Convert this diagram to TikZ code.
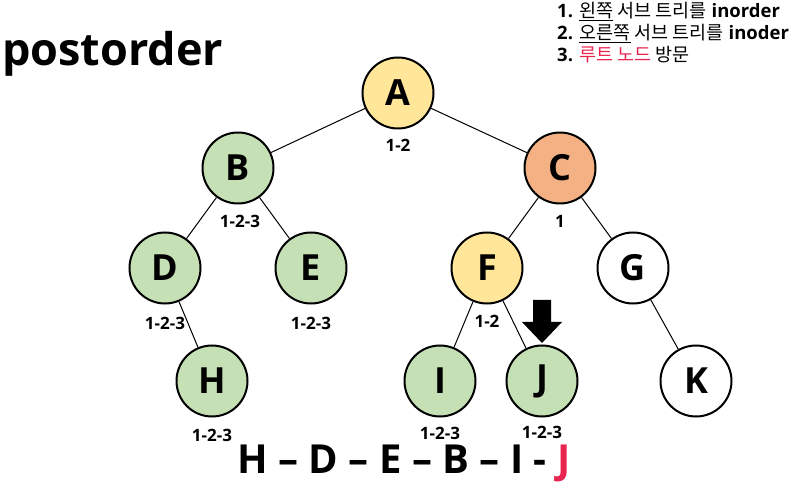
\documentclass[tikz,border=0pt]{standalone}
\usepackage{fontspec}
\setmainfont{Open Sans}
\newfontfamily\kr{Noto Sans CJK KR}
\definecolor{tgreen}{HTML}{C5E0B4}
\definecolor{tyellow}{HTML}{FFE699}
\definecolor{torange}{HTML}{F4B183}
\definecolor{tred}{HTML}{E8254F}
\begin{document}
\begin{tikzpicture}[x=1pt,y=-1pt,
  tnode/.style={circle,draw=black,line width=2pt,minimum size=71pt,inner sep=0pt,font=\fontsize{36}{38}\selectfont\bfseries},
  lbl/.style={font=\fontsize{17}{19}\selectfont\bfseries,inner sep=0pt},
  edge/.style={line width=1pt}]
\useasboundingbox (0,0) rectangle (812,489);
\node[anchor=west,inner sep=0pt,font=\fontsize{45}{48}\selectfont\bfseries] (title) at (2,54) {postorder};
\node[anchor=north west,inner sep=0pt,align=left,font=\fontsize{18.5}{22}\selectfont\bfseries] (rules) at (557,2)
 {1. {\kr\mdseries\underline{왼쪽} 서브 트리를} inorder\\
  2. {\kr\mdseries\underline{오른쪽} 서브 트리를} inoder\\
  3. {\kr\mdseries\textcolor{tred}{루트 노드} 방문}};
\node[tnode,fill=tyellow] (A) at (398,93) {A};
\node[tnode,fill=tgreen] (B) at (238,168) {B};
\node[tnode,fill=torange] (C) at (560,168) {C};
\node[tnode,fill=tgreen] (D) at (165,268) {D};
\node[tnode,fill=tgreen] (E) at (311,268) {E};
\node[tnode,fill=tyellow] (F) at (487,268) {F};
\node[tnode,fill=white] (G) at (633,268) {G};
\node[tnode,fill=tgreen] (H) at (212,381) {H};
\node[tnode,fill=tgreen] (I) at (440,381) {I};
\node[tnode,fill=tgreen] (J) at (542,381) {J};
\node[tnode,fill=white] (K) at (696,381) {K};
\draw[edge] (A) -- (B); \draw[edge] (A) -- (C);
\draw[edge] (B) -- (D); \draw[edge] (B) -- (E);
\draw[edge] (C) -- (F); \draw[edge] (C) -- (G);
\draw[edge] (D) -- (H); \draw[edge] (F) -- (I);
\draw[edge] (F) -- (J); \draw[edge] (G) -- (K);
\node[lbl] (lA) at (398,145) {1-2};
\node[lbl] (lB) at (240,221) {1-2-3};
\node[lbl] (lC) at (560,221) {1};
\node[lbl] (lD) at (165,323) {1-2-3};
\node[lbl] (lE) at (311,323) {1-2-3};
\node[lbl] (lF) at (487,321) {1-2};
\node[lbl] (lH) at (212,435) {1-2-3};
\node[lbl] (lI) at (440,433) {1-2-3};
\node[lbl] (lJ) at (542,432) {1-2-3};
\coordinate (tip) at (542,343);
\fill[black] (tip) -- ++(-20,-21) -- ++(11,0) -- ++(0,-22) -- ++(18,0) -- ++(0,22) -- ++(11,0) -- cycle;
\node[inner sep=0pt,font=\fontsize{40}{42}\selectfont\bfseries] (seq) at (404,463) {H – D – E – B – I - \textcolor{tred}{J}};
\end{tikzpicture}
\end{document}
